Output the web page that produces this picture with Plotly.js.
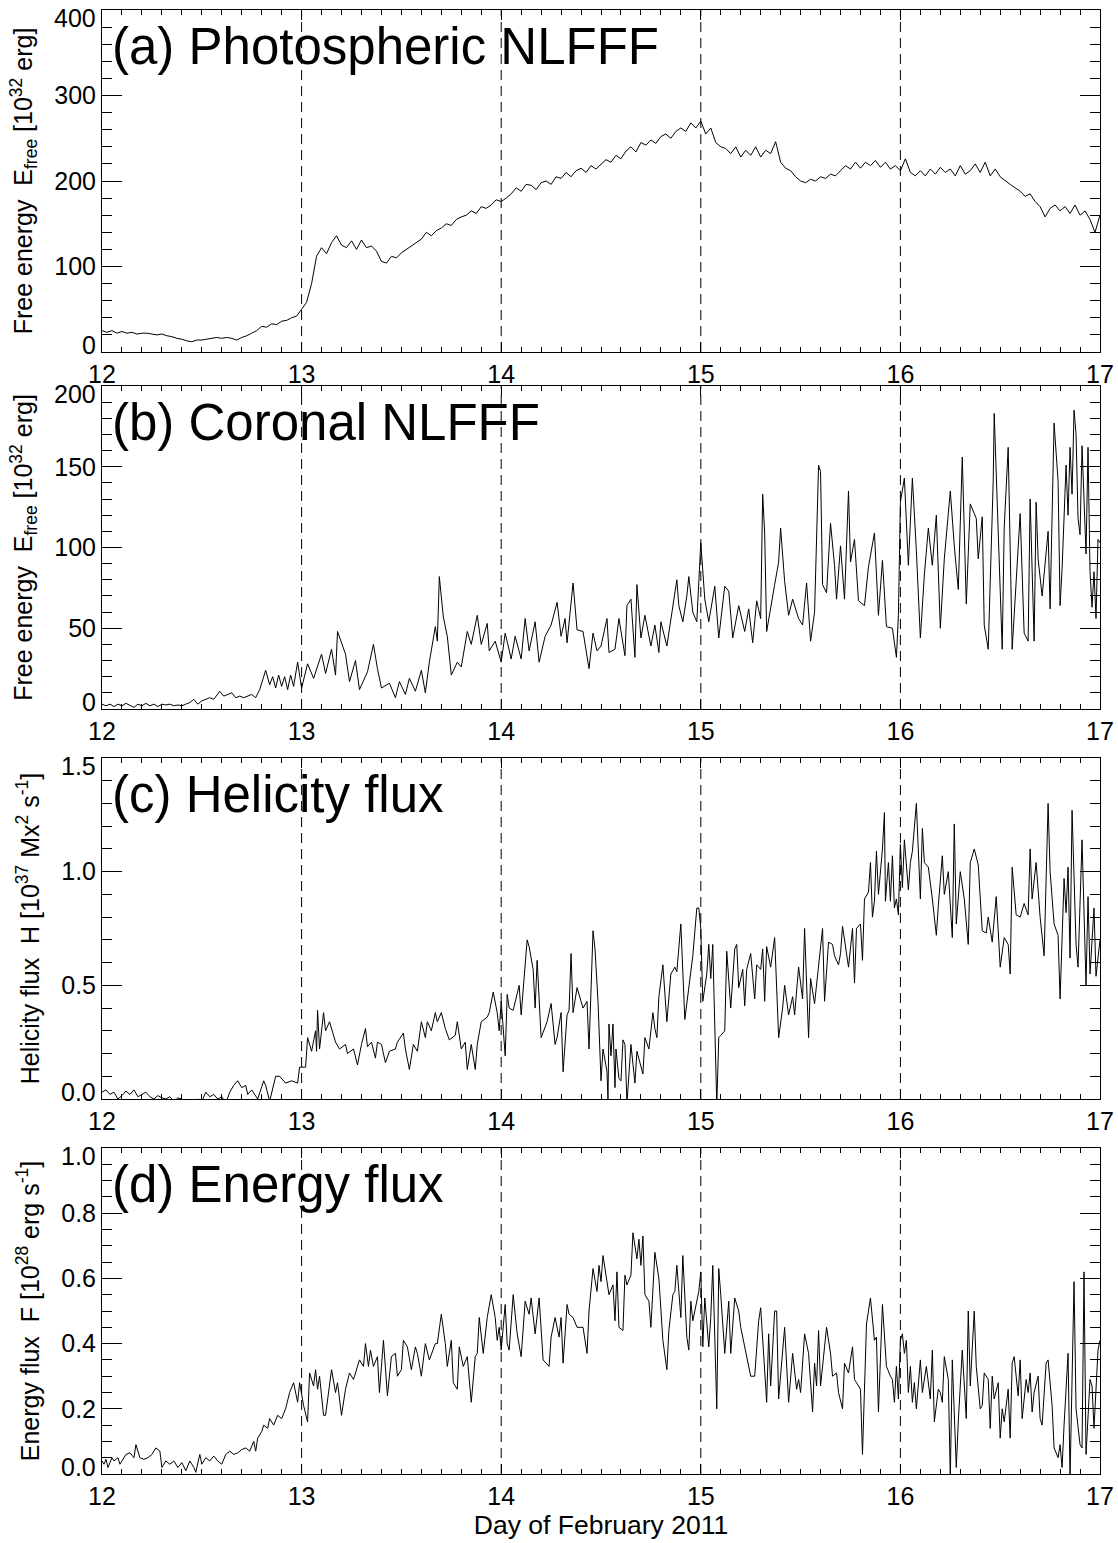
<!DOCTYPE html>
<html><head><meta charset="utf-8">
<script src="https://cdn.plot.ly/plotly-3.0.1.min.js"></script>
<style>html,body{margin:0;padding:0;background:#fff}#chart{width:1118px;height:1543px}</style>
</head><body><div id="chart"></div>
<script>
// ---------- data ----------
const flareDays = [13, 14, 15, 16];
const panelLabels = ["(a) Photospheric NLFFF", "(b) Coronal NLFFF", "(c) Helicity flux", "(d) Energy flux"];
const yTitles = [
  "Free energy&nbsp;&nbsp;E<sub>free</sub> [10<sup>32</sup> erg]",
  "Free energy&nbsp;&nbsp;E<sub>free</sub> [10<sup>32</sup> erg]",
  "Helicity flux&nbsp;&nbsp;H [10<sup>37</sup> Mx<sup>2</sup> s<sup>-1</sup>]",
  "Energy flux&nbsp;&nbsp;F [10<sup>28</sup> erg s<sup>-1</sup>]"
];
const xTitle = "Day of February 2011";
const yTickValsA = [0, 100, 200, 300, 400];
const yTickTextA = ["0", "100", "200", "300", "400"];
const yTickValsB = [0, 50, 100, 150, 200];
const yTickTextB = ["0", "50", "100", "150", "200"];
const yTickValsC = [0, 0.5, 1.0, 1.5];
const yTickTextC = ["0.0", "0.5", "1.0", "1.5"];
const yTickValsD = [0, 0.2, 0.4, 0.6, 0.8, 1.0];
const yTickTextD = ["0.0", "0.2", "0.4", "0.6", "0.8", "1.0"];

// (a) photospheric NLFFF free energy [1e32 erg]
const tA = [12,12.025,12.05,12.075,12.1,12.125,12.15,12.175,12.2,12.225,12.25,12.275,12.3,12.325,12.35,12.375,12.4,12.425,12.45,12.475,
12.5,12.525,12.55,12.575,12.6,12.625,12.65,12.675,12.7,12.725,12.75,12.775,12.8,12.825,12.85,12.875,12.9,12.925,12.95,12.975,
13,13.025,13.05,13.075,13.1,13.125,13.15,13.175,13.2,13.225,13.25,13.275,13.3,13.325,13.35,13.375,13.4,13.425,13.45,13.475,
13.5,13.525,13.55,13.575,13.6,13.625,13.65,13.675,13.7,13.725,13.75,13.775,13.8,13.825,13.85,13.875,13.9,13.925,13.95,13.975,
14,14.025,14.05,14.075,14.1,14.125,14.15,14.175,14.2,14.225,14.25,14.275,14.3,14.325,14.35,14.375,14.4,14.425,14.45,14.475,
14.5,14.525,14.55,14.575,14.6,14.625,14.65,14.675,14.7,14.725,14.75,14.775,14.8,14.825,14.85,14.875,14.9,14.925,14.95,14.975,
15,15.025,15.05,15.075,15.1,15.125,15.15,15.175,15.2,15.225,15.25,15.275,15.3,15.325,15.35,15.375,15.4,15.425,15.45,15.475,
15.5,15.525,15.55,15.575,15.6,15.625,15.65,15.675,15.7,15.725,15.75,15.775,15.8,15.825,15.85,15.875,15.9,15.925,15.95,15.975,
16,16.025,16.05,16.075,16.1,16.125,16.15,16.175,16.2,16.225,16.25,16.275,16.3,16.325,16.35,16.375,16.4,16.425,16.45,16.475,
16.5,16.525,16.55,16.575,16.6,16.625,16.65,16.675,16.7,16.725,16.75,16.775,16.8,16.825,16.85,16.875,16.9,16.925,16.95,16.975,
17];
const eA = [25,23,25,22,24,22,23,21,22,22,21,20,21,19,18,16,15,13,12,14,
14,15,16,17,16,17,16,14,17,19,22,25,30,29,33,32,36,37,40,42,
50,58,80,112,122,115,128,136,125,122,130,120,131,122,124,118,106,104,112,110,
116,120,125,128,132,140,136,142,145,150,148,155,158,160,165,162,170,168,172,178,
176,180,185,192,188,196,195,190,198,200,196,205,203,210,205,212,215,210,218,214,
220,225,222,230,226,235,240,234,245,242,248,244,252,255,250,258,262,258,268,262,
270,255,262,245,240,238,232,240,228,236,230,240,228,236,232,246,222,215,212,205,
200,198,202,200,205,203,208,206,212,218,214,222,215,222,218,224,216,222,214,218,
212,226,210,206,212,206,214,208,216,210,214,206,218,208,212,220,210,222,206,214,
205,200,196,192,188,182,185,176,170,158,168,172,165,170,162,172,160,165,155,140,
160];

// (b) coronal NLFFF free energy [1e32 erg]
const tB = [12,12.02,12.04,12.06,12.08,12.1,12.12,12.14,12.16,12.18,12.2,12.22,12.24,12.26,12.28,12.3,12.32,12.34,12.36,12.38,
12.4,12.42,12.44,12.46,12.48,12.5,12.52,12.54,12.56,12.58,12.59,12.61,12.63,12.65,12.67,12.69,12.71,12.73,12.75,12.77,
12.79,12.82,12.84,12.855,12.87,12.885,12.9,12.915,12.93,12.945,12.96,12.98,13,13.03,13.06,13.1,13.12,13.15,13.17,13.18,
13.22,13.24,13.27,13.29,13.33,13.36,13.38,13.4,13.44,13.47,13.49,13.52,13.54,13.57,13.6,13.62,13.64,13.67,13.68,13.69,
13.71,13.73,13.75,13.78,13.8,13.83,13.85,13.88,13.9,13.93,13.94,13.97,14,14.02,14.05,14.07,14.1,14.12,14.14,14.17,
14.19,14.22,14.25,14.28,14.3,14.32,14.33,14.36,14.38,14.41,14.44,14.46,14.48,14.5,14.53,14.54,14.57,14.59,14.62,14.63,
14.65,14.67,14.68,14.7,14.72,14.75,14.77,14.79,14.8,14.83,14.85,14.88,14.89,14.91,14.93,14.94,14.96,14.98,15,15.02,
15.04,15.07,15.09,15.12,15.14,15.16,15.19,15.22,15.24,15.26,15.28,15.3,15.31,15.32,15.33,15.35,15.37,15.39,15.4,15.42,
15.44,15.46,15.49,15.51,15.53,15.55,15.57,15.59,15.6,15.61,15.63,15.65,15.67,15.68,15.7,15.72,15.74,15.75,15.77,15.79,
15.82,15.84,15.87,15.89,15.91,15.93,15.96,15.98,15.99,16,16.02,16.04,16.06,16.08,16.1,16.12,16.14,16.16,16.18,16.2,
16.22,16.25,16.27,16.29,16.31,16.33,16.35,16.38,16.39,16.41,16.42,16.44,16.465,16.47,16.48,16.51,16.52,16.54,16.56,16.58,
16.6,16.62,16.64,16.65,16.67,16.68,16.69,16.71,16.73,16.74,16.75,16.77,16.79,16.8,16.81,16.83,16.84,16.85,16.86,16.87,
16.88,16.89,16.9,16.91,16.93,16.94,16.95,16.96,16.97,16.98,16.99,17];
const eB = [3,2,3,1.5,3,2,3.5,2,1,3,2,3.5,2,3,1.5,3,2.5,3,2,2.5,
2,3,4,6,3,5,6,7,6,9,11,8,9,10,7,8,7,8,9,7,
12,24,15,20,13,21,14,20,12,21,14,29,13,28,19,34,22,37,21,48,
34,17,30,12,23,40,25,13,16,7,17,9,19,11,24,10,29,51,42,82,
57,45,21,29,26,48,40,58,40,53,36,42,29,47,31,45,31,56,36,54,
29,45,52,66,45,56,41,78,49,48,25,47,36,39,56,35,37,56,33,64,
68,32,77,44,58,39,52,35,54,39,56,80,64,54,70,82,60,54,103,68,
54,76,44,76,73,44,64,48,62,41,67,56,133,109,48,64,77,91,112,79,
58,68,56,52,78,42,60,151,147,77,72,115,89,68,101,68,135,91,105,67,
64,88,109,58,92,51,50,32,58,128,143,89,143,98,44,83,112,89,120,50,
93,135,101,74,156,65,127,118,93,119,52,37,141,183,149,37,112,162,37,78,
121,47,42,130,42,128,93,70,94,110,62,177,141,64,87,151,120,162,133,185,
170,118,108,163,96,162,85,63,85,56,105,103];

// (c) helicity flux [1e37 Mx^2 s^-1]
const tC = [12,12.02,12.04,12.06,12.08,12.1,12.12,12.14,12.16,12.18,12.2,12.22,12.24,12.26,12.28,12.3,12.32,12.34,12.36,12.38,
12.4,12.42,12.44,12.46,12.48,12.5,12.52,12.54,12.56,12.58,12.6,12.62,12.64,12.66,12.68,12.7,12.72,12.73,12.75,12.78,
12.81,12.82,12.84,12.87,12.89,12.92,12.95,12.98,12.99,13.02,13.03,13.05,13.07,13.075,13.08,13.09,13.11,13.12,13.14,13.17,
13.19,13.22,13.23,13.26,13.28,13.3,13.32,13.33,13.35,13.37,13.38,13.4,13.42,13.44,13.47,13.48,13.51,13.52,13.54,13.56,
13.58,13.6,13.62,13.63,13.65,13.67,13.68,13.7,13.72,13.74,13.77,13.78,13.8,13.82,13.83,13.85,13.87,13.88,13.9,13.93,
13.94,13.96,13.98,13.99,14,14.02,14.03,14.04,14.06,14.08,14.09,14.1,14.13,14.14,14.16,14.17,14.18,14.2,14.23,14.25,
14.27,14.28,14.3,14.31,14.33,14.34,14.35,14.36,14.38,14.41,14.43,14.44,14.46,14.47,14.485,14.5,14.51,14.53,14.535,14.54,
14.55,14.56,14.57,14.575,14.59,14.6,14.61,14.62,14.63,14.65,14.67,14.68,14.71,14.72,14.74,14.76,14.77,14.78,14.79,14.81,
14.83,14.85,14.87,14.88,14.9,14.92,14.94,14.96,14.98,14.99,15,15.01,15.03,15.04,15.05,15.06,15.08,15.09,15.1,15.12,
15.13,15.15,15.17,15.18,15.19,15.21,15.22,15.23,15.25,15.27,15.28,15.3,15.31,15.32,15.33,15.35,15.37,15.38,15.39,15.41,
15.42,15.44,15.46,15.47,15.49,15.51,15.52,15.54,15.55,15.57,15.58,15.61,15.62,15.64,15.66,15.67,15.69,15.7,15.71,15.73,
15.74,15.76,15.77,15.78,15.8,15.81,15.82,15.84,15.85,15.86,15.87,15.88,15.89,15.91,15.92,15.925,15.94,15.95,15.96,15.97,
15.98,15.99,16,16.01,16.02,16.04,16.05,16.06,16.08,16.1,16.11,16.12,16.14,16.16,16.18,16.19,16.21,16.22,16.24,16.26,
16.27,16.28,16.3,16.32,16.34,16.35,16.37,16.39,16.41,16.43,16.44,16.46,16.48,16.49,16.5,16.52,16.54,16.55,16.56,16.58,
16.6,16.62,16.64,16.65,16.66,16.68,16.7,16.72,16.73,16.74,16.75,16.77,16.79,16.8,16.82,16.83,16.84,16.85,16.86,16.88,
16.89,16.91,16.93,16.94,16.95,16.97,16.98,17];
const hC = [0.03,0.04,0.02,0.03,0,0.015,0.035,0.02,0.04,0.01,0.02,0.03,0.01,0,0.015,0.005,0,0.01,-0.01,0.005,
0,-0.02,0,-0.03,0,-0.01,0.03,0.01,0.02,0,0.01,-0.02,0.03,0.06,0.08,0.05,0.06,0.02,0.04,0,
0.08,0.06,-0.01,0.1,0.1,0.07,0.08,0.07,0.14,0.14,0.27,0.21,0.3,0.21,0.39,0.22,0.38,0.3,0.34,0.25,
0.22,0.24,0.2,0.22,0.15,0.24,0.31,0.23,0.25,0.18,0.25,0.24,0.16,0.21,0.22,0.25,0.29,0.22,0.13,0.24,
0.21,0.34,0.27,0.34,0.3,0.38,0.34,0.38,0.31,0.26,0.28,0.34,0.22,0.25,0.13,0.24,0.13,0.24,0.34,0.36,
0.38,0.47,0.38,0.3,0.43,0.19,0.46,0.4,0.39,0.46,0.5,0.37,0.7,0.67,0.57,0.4,0.61,0.27,0.34,0.42,
0.24,0.27,0.38,0.12,0.37,0.39,0.64,0.38,0.49,0.4,0.43,0.22,0.74,0.66,0.43,0.08,0.22,0.12,0,0.33,
0.19,0.33,0.05,0.22,0.09,0.08,0.26,0.24,-0.02,0.24,0.07,0.21,0.11,0.27,0.22,0.38,0.31,0.27,0.45,0.59,
0.34,0.55,0.58,0.56,0.77,0.35,0.5,0.63,0.84,0.84,0.75,0.43,0.55,0.68,0.53,0.68,-0.03,0.27,0.28,0.3,
0.65,0.4,0.66,0.68,0.49,0.57,0.41,0.57,0.64,0.44,0.59,0.57,0.66,0.43,0.67,0.58,0.71,0.49,0.27,0.4,
0.5,0.37,0.45,0.37,0.58,0.44,0.75,0.27,0.53,0.42,0.51,0.75,0.43,0.69,0.68,0.63,0.59,0.64,0.76,0.65,
0.58,0.75,0.51,0.75,0.77,0.61,0.88,0.91,1.04,0.8,0.87,1.09,0.9,1.1,1.26,0.87,1.04,0.87,1.07,0.84,
0.88,0.81,1.12,0.93,1.14,0.92,1.04,1.09,1.3,0.88,1.19,1.04,1.02,0.88,0.72,0.85,1.07,0.9,1,0.71,
1.21,0.77,1,0.88,0.68,1.04,1.1,1.03,0.74,0.73,0.8,0.69,0.89,0.74,0.58,0.71,0.68,0.55,1.02,0.81,
0.8,0.86,0.81,1.1,0.88,1.04,0.8,0.63,0.99,1.3,1,0.77,0.72,0.44,0.97,0.82,1.02,0.62,1.27,0.68,
0.58,1.14,0.5,0.89,0.55,0.84,0.54,0.7];

// (d) energy flux [1e28 erg s^-1]
const tD = [12,12.01,12.02,12.03,12.05,12.06,12.08,12.09,12.1,12.12,12.14,12.16,12.17,12.19,12.21,12.23,12.25,12.27,12.29,12.3,
12.32,12.34,12.36,12.38,12.4,12.42,12.44,12.46,12.47,12.49,12.5,12.52,12.54,12.56,12.58,12.6,12.62,12.64,12.66,12.68,
12.7,12.72,12.74,12.76,12.77,12.78,12.8,12.81,12.83,12.84,12.86,12.88,12.9,12.92,12.94,12.96,12.98,12.99,13.01,13.03,
13.04,13.06,13.07,13.08,13.09,13.11,13.12,13.15,13.17,13.18,13.2,13.22,13.24,13.26,13.27,13.29,13.31,13.32,13.335,13.345,
13.36,13.38,13.39,13.41,13.43,13.45,13.47,13.48,13.5,13.51,13.53,13.55,13.57,13.58,13.6,13.62,13.64,13.67,13.68,13.7,
13.72,13.73,13.75,13.76,13.78,13.79,13.81,13.83,13.85,13.87,13.88,13.89,13.91,13.93,13.95,13.97,13.98,13.99,14,14.02,
14.03,14.04,14.06,14.08,14.1,14.12,14.14,14.15,14.17,14.19,14.21,14.24,14.25,14.27,14.29,14.3,14.31,14.33,14.34,14.36,
14.38,14.41,14.43,14.44,14.46,14.48,14.49,14.5,14.51,14.53,14.54,14.56,14.57,14.58,14.59,14.61,14.62,14.63,14.65,14.66,
14.68,14.69,14.7,14.71,14.72,14.74,14.75,14.77,14.79,14.81,14.83,14.84,14.86,14.87,14.88,14.9,14.91,14.93,14.94,14.95,
14.96,14.97,14.99,15,15.01,15.02,15.04,15.05,15.06,15.08,15.09,15.1,15.12,15.14,15.15,15.17,15.19,15.2,15.22,15.24,
15.25,15.27,15.29,15.3,15.33,15.34,15.35,15.37,15.38,15.39,15.42,15.44,15.46,15.48,15.49,15.5,15.52,15.54,15.56,15.57,
15.58,15.59,15.6,15.62,15.63,15.65,15.66,15.68,15.69,15.71,15.72,15.74,15.76,15.77,15.78,15.8,15.81,15.82,15.83,15.85,
15.87,15.88,15.89,15.91,15.93,15.95,15.96,15.97,15.98,15.99,16,16.01,16.02,16.03,16.04,16.05,16.06,16.07,16.08,16.1,
16.11,16.13,16.15,16.16,16.17,16.19,16.2,16.21,16.22,16.24,16.25,16.26,16.28,16.29,16.31,16.33,16.34,16.35,16.37,16.38,
16.4,16.41,16.42,16.44,16.45,16.46,16.47,16.49,16.5,16.51,16.52,16.54,16.55,16.56,16.57,16.59,16.6,16.61,16.63,16.64,
16.65,16.66,16.67,16.69,16.7,16.71,16.73,16.74,16.76,16.77,16.79,16.8,16.81,16.82,16.84,16.85,16.87,16.88,16.9,16.91,
16.92,16.93,16.95,16.96,16.97,16.99,17];
const fD = [0.04,0.03,0.045,0.02,0.05,0.04,0.05,0.03,0.04,0.06,0.065,0.05,0.09,0.05,0.045,0.05,0.06,0.08,0.07,0.02,
0.04,0.03,0.04,0.02,0.035,0.01,0.04,0.02,0.005,0.06,0.03,0.05,0.04,0.055,0.04,0.03,0.06,0.07,0.06,0.065,
0.075,0.08,0.07,0.1,0.07,0.11,0.13,0.15,0.14,0.17,0.15,0.18,0.17,0.2,0.25,0.28,0.22,0.28,0.21,0.16,
0.31,0.27,0.32,0.26,0.3,0.18,0.18,0.32,0.25,0.28,0.18,0.26,0.31,0.29,0.31,0.35,0.33,0.4,0.33,0.38,
0.33,0.36,0.25,0.41,0.24,0.36,0.37,0.3,0.32,0.41,0.39,0.32,0.39,0.37,0.3,0.4,0.35,0.4,0.4,0.49,
0.4,0.33,0.41,0.28,0.26,0.39,0.33,0.36,0.22,0.36,0.37,0.48,0.37,0.48,0.55,0.48,0.41,0.45,0.38,0.52,
0.4,0.38,0.55,0.43,0.36,0.53,0.49,0.54,0.43,0.54,0.35,0.33,0.42,0.48,0.42,0.48,0.34,0.52,0.49,0.48,
0.45,0.45,0.37,0.5,0.63,0.56,0.64,0.59,0.67,0.59,0.55,0.58,0.47,0.62,0.45,0.44,0.61,0.58,0.61,0.74,
0.66,0.72,0.64,0.73,0.55,0.53,0.45,0.68,0.6,0.41,0.32,0.44,0.55,0.56,0.64,0.48,0.67,0.42,0.38,0.53,
0.47,0.5,0.56,0.62,0.39,0.54,0.39,0.48,0.64,0.2,0.63,0.55,0.37,0.53,0.37,0.54,0.5,0.45,0.39,0.33,
0.3,0.3,0.47,0.51,0.22,0.43,0.27,0.5,0.5,0.23,0.45,0.22,0.37,0.26,0.29,0.25,0.43,0.37,0.19,0.34,
0.27,0.44,0.27,0.39,0.45,0.37,0.3,0.31,0.25,0.2,0.34,0.31,0.39,0.29,0.28,0.26,0.06,0.27,0.46,0.54,
0.41,0.42,0.19,0.52,0.33,0.3,0.29,0.22,0.33,0.23,0.41,0.43,0.37,0.41,0.25,0.33,0.22,0.28,0.2,0.35,
0.25,0.33,0.23,0.38,0.16,0.26,0.25,0.22,0.36,0.29,-0.01,0.35,0.02,0.16,0.38,0.17,0.5,0.27,0.5,0.33,
0.2,0.21,0.31,0.29,0.14,0.3,0.23,0.28,0.11,0.2,0.16,0.26,0.11,0.34,0.36,0.24,0.35,0.17,0.29,0.25,
0.31,0.19,0.25,0.3,0.17,0.15,0.34,0.35,0.21,0.08,0.05,0.09,0.02,0.15,0.37,-0.01,0.59,0.2,0.09,0.08,
0.62,0.06,0.29,0.27,0.14,0.38,0.41];

// ---------- figure ----------
const FONT = "Liberation Sans, Arial, Helvetica, sans-serif";
const W = 1118, H = 1543, ML = 102, MR = 18, MT = 10, MB = 69;
const plotH = H - MT - MB;
// panel pixel extents (top, bottom) in page coordinates
const panelPx = [[10, 352], [386, 709], [758, 1099], [1148, 1474]];
const yRanges = [[0, 400], [0, 200], [0, 1.5], [0, 1]];
const yMinor = [20, 10, 0.1, 0.05];
const yTicks = [[yTickValsA, yTickTextA], [yTickValsB, yTickTextB], [yTickValsC, yTickTextC], [yTickValsD, yTickTextD]];
const series = [[tA, eA], [tB, eB], [tC, hC], [tD, fD]];

const traces = [];
const layout = {
  width: W, height: H,
  margin: {l: ML, r: MR, t: MT, b: MB},
  paper_bgcolor: "#fff", plot_bgcolor: "#fff",
  showlegend: false,
  font: {family: FONT, color: "#000", size: 25},
  shapes: [], annotations: []
};

for (let i = 0; i < 4; i++) {
  const n = i + 1;
  const xa = "xaxis" + (n === 1 ? "" : n), ya = "yaxis" + (n === 1 ? "" : n);
  const xr = "x" + (n === 1 ? "" : n), yr = "y" + (n === 1 ? "" : n);
  const [top, bot] = panelPx[i];
  const d0 = 1 - (bot - MT) / plotH, d1 = 1 - (top - MT) / plotH;
  const [tv, tt] = yTicks[i];
  const last = tv.length - 1;
  // edge labels are drawn slightly inside the frame (as in the original), the rest by the axis
  const innerText = tt.map((s, k) => (k === 0 || k === last) ? "" : s);

  traces.push({
    x: series[i][0], y: series[i][1], xaxis: xr, yaxis: yr,
    type: "scatter", mode: "lines",
    line: {color: "#000", width: 1}, hoverinfo: "skip"
  });
  layout[xa] = {
    domain: [0, 1], anchor: yr, range: [12, 17],
    tickmode: "linear", tick0: 12, dtick: 1,
    ticks: "inside", ticklen: 10, tickwidth: 1, tickcolor: "#000",
    minor: {dtick: 0.1, ticklen: 5, tickwidth: 1, tickcolor: "#000", ticks: "inside"},
    showline: true, linecolor: "#000", linewidth: 1, mirror: "allticks",
    showgrid: false, zeroline: false, ticklabeloverflow: "allow",
    tickfont: {family: FONT, size: 25, color: "#000"}
  };
  if (i === 3) {
    layout[xa].title = {text: xTitle, font: {family: FONT, size: 26.5, color: "#000"}, standoff: 6};
  }
  layout[ya] = {
    domain: [d0, d1], anchor: xr, range: yRanges[i],
    tickmode: "array", tickvals: tv, ticktext: innerText,
    ticks: "inside", ticklen: 20, tickwidth: 1, tickcolor: "#000",
    minor: {dtick: yMinor[i], tick0: 0, ticklen: 10, tickwidth: 1, tickcolor: "#000", ticks: "inside"},
    showline: true, linecolor: "#000", linewidth: 1, mirror: "allticks",
    showgrid: false, zeroline: false, ticklabeloverflow: "allow",
    tickfont: {family: FONT, size: 25, color: "#000"},
    title: {text: yTitles[i], font: {family: FONT, size: 25, color: "#000"}, standoff: 14}
  };
  // edge tick labels
  [[0, 7], [last, -8]].forEach(([k, shift]) => {
    layout.annotations.push({
      text: tt[k], xref: xr + " domain", yref: yr, x: 0, y: tv[k],
      xanchor: "right", yanchor: "middle", xshift: -4, yshift: shift,
      showarrow: false, font: {family: FONT, size: 25, color: "#000"}
    });
  });
  flareDays.forEach(day => {
    layout.shapes.push({
      type: "line", xref: xr, yref: yr + " domain",
      x0: day, x1: day, y0: 0, y1: 1,
      line: {color: "#000", width: 1, dash: "10px,6px"}
    });
  });
  layout.annotations.push({
    text: panelLabels[i], xref: xr + " domain", yref: yr + " domain",
    x: 0, y: 1, xanchor: "left", yanchor: "top", xshift: 8, yshift: -6,
    showarrow: false, font: {family: FONT, size: 51, color: "#000"}
  });
}

Plotly.newPlot("chart", traces, layout, {displayModeBar: false, staticPlot: true});
</script>
</body></html>
